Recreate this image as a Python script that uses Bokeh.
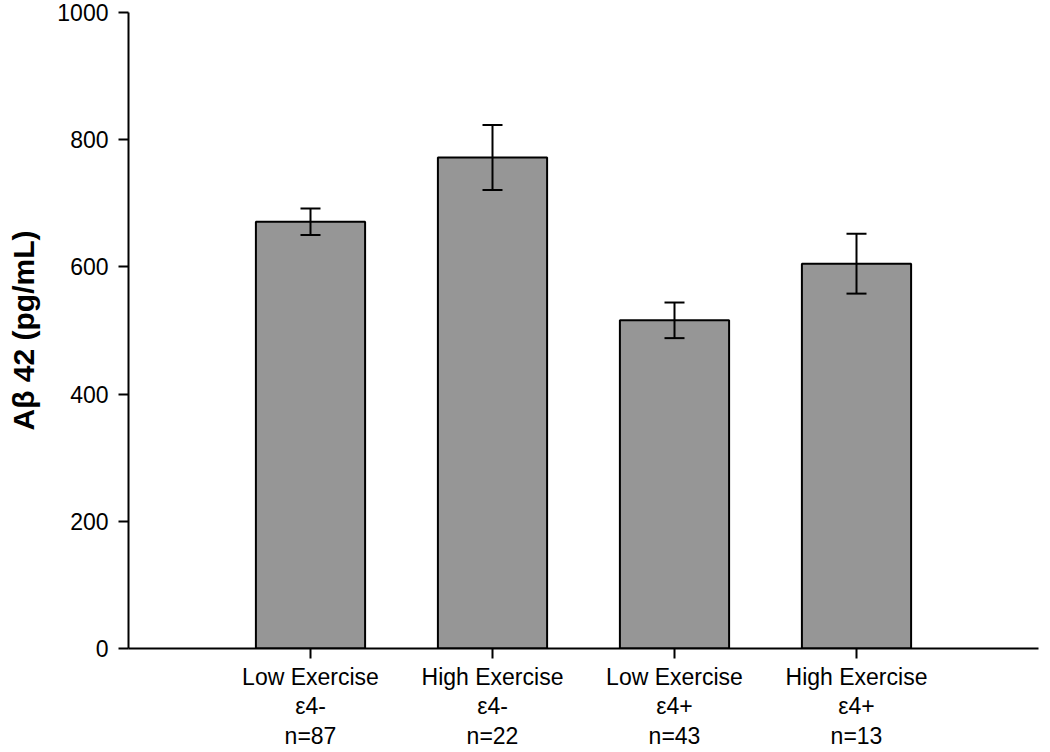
from bokeh.plotting import figure
from bokeh.models import ColumnDataSource, Range1d, FixedTicker, Whisker, TeeHead
from bokeh.embed import file_html
from bokeh.resources import INLINE

# Data
groups = ["Low Exercise\nε4-\nn=87", "High Exercise\nε4-\nn=22",
          "Low Exercise\nε4+\nn=43", "High Exercise\nε4+\nn=13"]
positions = [1, 2, 3, 4]
means = [671, 772, 516, 605]
sems = [21, 51, 28, 47]
y_ticks = [0, 200, 400, 600, 800, 1000]

upper = [m + s for m, s in zip(means, sems)]
lower = [m - s for m, s in zip(means, sems)]
src = ColumnDataSource(dict(x=positions, top=means, upper=upper, lower=lower))

p = figure(frame_width=910, frame_height=636, output_backend="svg", toolbar_location=None,
           x_range=Range1d(0, 5), y_range=Range1d(0, 1000),
           min_border_left=128, min_border_right=4, min_border_top=12, min_border_bottom=96)
p.outline_line_color = None
p.xgrid.grid_line_color = None
p.ygrid.grid_line_color = None

p.vbar(x="x", top="top", width=0.6, source=src, fill_color="#969696",
       line_color="black", line_width=2)

w = Whisker(base="x", upper="upper", lower="lower", source=src,
            line_color="black", line_width=2, level="overlay",
            upper_head=TeeHead(size=20, line_color="black", line_width=2),
            lower_head=TeeHead(size=20, line_color="black", line_width=2))
p.add_layout(w)

font = "Liberation Sans"
for ax in (p.xaxis[0], p.yaxis[0]):
    ax.axis_line_width = 2
    ax.axis_line_color = "black"
    ax.major_tick_line_width = 2
    ax.major_tick_out = 10
    ax.major_tick_in = 0
    ax.minor_tick_out = 0
    ax.minor_tick_in = 0
    ax.major_label_text_font = font
    ax.major_label_text_color = "black"

p.xaxis.ticker = FixedTicker(ticks=positions)
p.xaxis.major_label_overrides = {pos: lab for pos, lab in zip(positions, groups)}
p.xaxis.major_label_text_font_size = "23px"
p.xaxis.major_label_text_line_height = 1.15
p.xaxis.major_label_standoff = 5

p.yaxis.ticker = FixedTicker(ticks=y_ticks)
p.yaxis.major_label_text_font_size = "23px"
p.yaxis.major_label_standoff = 10
p.yaxis.axis_label = "Aβ 42 (pg/mL)"
p.yaxis.axis_label_text_font = font
p.yaxis.axis_label_text_font_style = "bold"
p.yaxis.axis_label_text_font_size = "30px"
p.yaxis.axis_label_text_color = "black"
p.yaxis.axis_label_standoff = 14

open("out.html", "w").write(file_html(p, INLINE))
